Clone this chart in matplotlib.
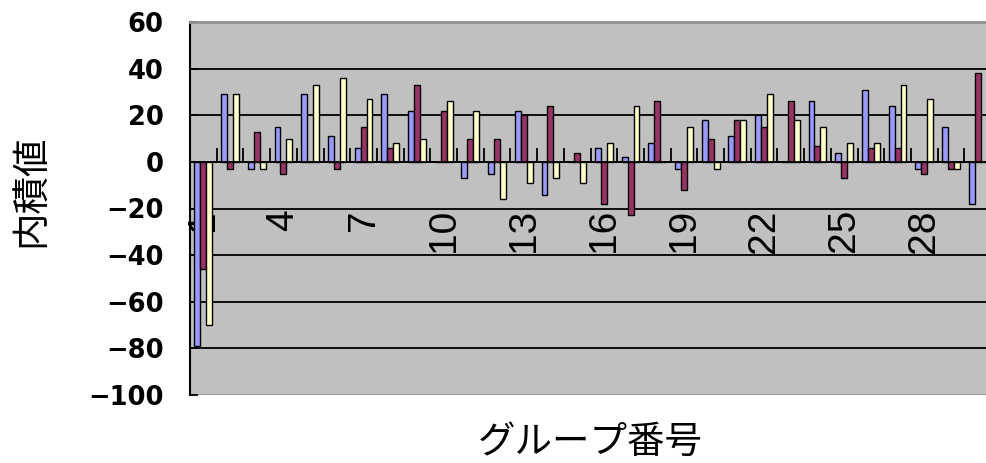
import matplotlib.pyplot as plt
import numpy as np

# データ（グループ番号 -> 内積値）
groups = list(range(1, 31))
blue_vals = [-79, 29, -3, 15, 29, 11, 6, 29, 22, 0, -7, -5, 22, -14, 0,
             6, 2, 8, -3, 18, 11, 20, 0, 26, 4, 31, 24, -3, 15, -18]
red_vals = [-46, -3, 13, -5, 0, -3, 15, 6, 33, 22, 10, 10, 20, 24, 4,
            -18, -23, 26, -12, 10, 18, 15, 26, 7, -7, 6, 6, -5, -3, 38]
yellow_vals = [-70, 29, -3, 10, 33, 36, 27, 8, 10, 26, 22, -16, -9, -7, -9,
               8, 24, 0, 15, -3, 18, 29, 18, 15, 8, 8, 33, 27, -3, 0]
label_groups = [1, 4, 7, 10, 13, 16, 19, 22, 25, 28]
y_ticks = [-100, -80, -60, -40, -20, 0, 20, 40, 60]

fig = plt.figure(figsize=(9.86, 4.63), dpi=100)
# プロット領域は右端で少し切れている
ax = fig.add_axes([190 / 986, 68 / 463, 801 / 986, 373 / 463])
ax.set_facecolor('#C0C0C0')

x = np.array(groups)
w = 1 / 4.5
for off, vals, col in [(-w, blue_vals, '#9999FF'),
                       (0, red_vals, '#993366'),
                       (w, yellow_vals, '#FFFFCC')]:
    ax.bar(x + off, vals, width=w, color=col, edgecolor='black',
           linewidth=1.0, zorder=2)

ax.set_xlim(0.5, 30.5)
ax.set_ylim(y_ticks[0], y_ticks[-1])

# 目盛線（上下端以外）
for y in y_ticks[1:-1]:
    ax.axhline(y, color='black', linewidth=1.3, zorder=1)
ax.axhline(y_ticks[0], color='#909090', linewidth=2, zorder=1)

# 枠線
ax.spines['right'].set_visible(False)
ax.spines['top'].set_color('#909090')
ax.spines['top'].set_linewidth(2)
ax.spines['left'].set_color('black')
ax.spines['left'].set_linewidth(1.5)
ax.spines['bottom'].set_position(('data', 0))
ax.spines['bottom'].set_color('black')
ax.spines['bottom'].set_linewidth(1.3)
ax.spines['bottom'].set_zorder(3)

# Y軸
ax.set_yticks(y_ticks)
ax.tick_params(axis='y', direction='in', length=6, width=1.3, pad=19,
               labelsize=18.5)
for t in ax.get_yticklabels():
    t.set_fontweight('bold')
    t.set_family('DejaVu Sans')

# X軸：区切りに目盛、中央にラベル
ax.set_xticks(x[:-1] + 0.5)
ax.set_xticklabels([])
ax.tick_params(axis='x', which='major', direction='in', length=10, width=1.3)
ax.set_xticks(x, minor=True)
ax.set_xticklabels([str(g) if g in label_groups else '' for g in groups],
                   minor=True, rotation=90, family='Liberation Sans',
                   fontsize=28)
ax.tick_params(axis='x', which='minor', length=0, pad=34)
for t in ax.get_xticklabels(minor=True):
    t.set_zorder(5)

ax.set_ylabel('内積値', family=['Noto Sans CJK JP', 'DejaVu Sans'],
              fontsize=27, rotation=90, va='center', ha='center')
ax.yaxis.set_label_coords(-0.1985, 0.547)
ax.set_xlabel('グループ番号', family=['Noto Sans CJK JP', 'DejaVu Sans'],
              fontsize=27, va='center', ha='center')
ax.xaxis.set_label_coords(0.5, -0.126)

fig.savefig('out.png', dpi=100)
